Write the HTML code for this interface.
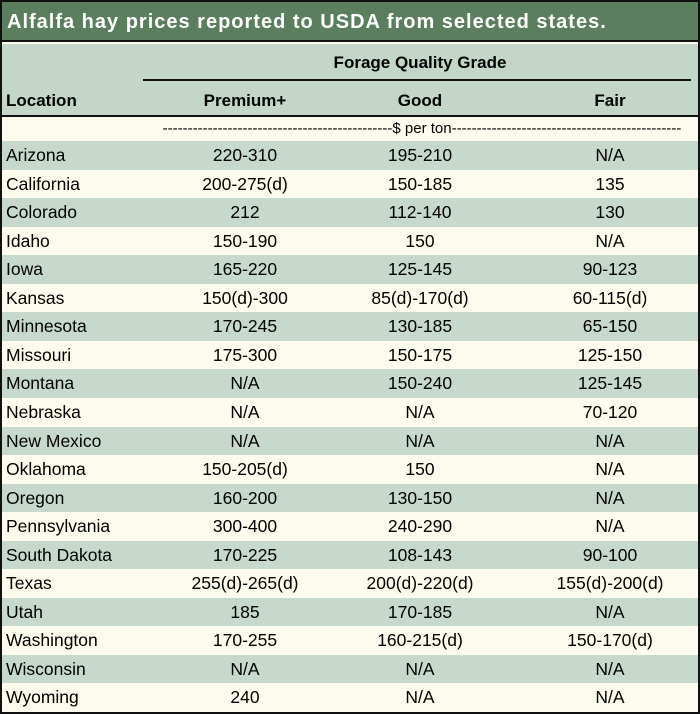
<!DOCTYPE html>
<html><head><style>
body{margin:0;width:700px;height:714px;overflow:hidden;font-family:"Liberation Sans",sans-serif;background:#fff}
.box{position:absolute;left:0;top:0;width:696px;height:710px;border:2px solid #111;background:#fdfbee}
.title{position:absolute;left:0;top:0;width:696px;height:40px;background:#5b7e5f;border-bottom:2px solid #111;color:#fff;font-weight:bold;font-size:20px;line-height:40px;padding-left:5px;box-sizing:border-box;letter-spacing:1px;white-space:nowrap}
.hdr{position:absolute;left:0;top:42px;width:696px;height:71px;background:#c3d6c8;border-bottom:2px solid #111;font-weight:bold;font-size:17px}
.row{position:absolute;left:0;width:696px;height:28.6px;font-size:17.5px;line-height:28px}
.g{background:#c7d9cc}
.c{position:absolute;text-align:center;transform:translateX(-50%);white-space:nowrap}
.l{position:absolute;left:4px}
</style></head><body>
<div class="box">
<div class="title">Alfalfa hay prices reported to USDA from selected states.</div>
<div class="hdr">
<div class="c" style="left:418px;top:9px">Forage Quality Grade</div>
<div style="position:absolute;left:141px;top:35px;width:548px;height:1.5px;background:#111"></div>
<div style="position:absolute;left:4px;top:47px">Location</div>
<div class="c" style="left:243px;top:47px">Premium+</div>
<div class="c" style="left:418px;top:47px">Good</div>
<div class="c" style="left:608px;top:47px">Fair</div>
</div>
<div class="row" style="top:115px;height:24px;line-height:24px"><div class="c" style="left:420px;font-size:15px">----------------------------------------------$ per ton----------------------------------------------</div></div>
<div id="rows"></div>
</div>
<script>
var d=[["Arizona","220-310","195-210","N/A"],["California","200-275(d)","150-185","135"],["Colorado","212","112-140","130"],["Idaho","150-190","150","N/A"],["Iowa","165-220","125-145","90-123"],["Kansas","150(d)-300","85(d)-170(d)","60-115(d)"],["Minnesota","170-245","130-185","65-150"],["Missouri","175-300","150-175","125-150"],["Montana","N/A","150-240","125-145"],["Nebraska","N/A","N/A","70-120"],["New Mexico","N/A","N/A","N/A"],["Oklahoma","150-205(d)","150","N/A"],["Oregon","160-200","130-150","N/A"],["Pennsylvania","300-400","240-290","N/A"],["South Dakota","170-225","108-143","90-100"],["Texas","255(d)-265(d)","200(d)-220(d)","155(d)-200(d)"],["Utah","185","170-185","N/A"],["Washington","170-255","160-215(d)","150-170(d)"],["Wisconsin","N/A","N/A","N/A"],["Wyoming","240","N/A","N/A"]];
var h="";d.forEach(function(r,i){h+='<div class="row'+(i%2==0?' g':'')+'" style="top:'+(139+i*28.55)+'px"><div class="l">'+r[0]+'</div><div class="c" style="left:243px">'+r[1]+'</div><div class="c" style="left:418px">'+r[2]+'</div><div class="c" style="left:608px">'+r[3]+'</div></div>';});
document.getElementById("rows").innerHTML=h;
</script>
</body></html>
